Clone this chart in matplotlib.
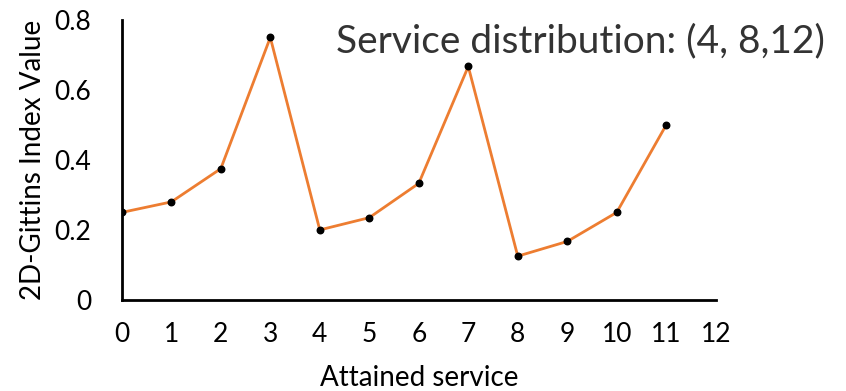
import matplotlib.pyplot as plt

plt.rcParams['font.family'] = ['Lato', 'DejaVu Sans']

# Gittins index per attained service level
service = [0, 1, 2, 3, 4, 5, 6, 7, 8, 9, 10, 11]
gittins = [0.25, 0.28, 0.375, 0.75, 0.2, 0.235, 0.333, 0.667, 0.125, 0.167, 0.25, 0.5]
xticks = list(range(13))
yticks = [0, 0.2, 0.4, 0.6, 0.8]
ytick_labels = ['0', '0.2', '0.4', '0.6', '0.8']

fig = plt.figure(figsize=(8.46, 3.91), dpi=100)
ax = fig.add_axes([0.144, 0.233, 0.702, 0.716])

ax.plot(service, gittins, color='#ED7D31', lw=2, zorder=2)
ax.scatter(service, gittins, color='black', s=22, zorder=3)

ax.set_xlim(0, 12)
ax.set_ylim(0, 0.8)
ax.set_xticks(xticks)
ax.set_yticks(yticks)
ax.set_yticklabels(ytick_labels)
ax.tick_params(length=0, labelsize=19, colors='black')
ax.tick_params(axis='x', pad=16)
ax.tick_params(axis='y', pad=22)

for side in ['top', 'right']:
    ax.spines[side].set_visible(False)
for side in ['left', 'bottom']:
    ax.spines[side].set_linewidth(2)

ax.set_xlabel('Attained service', fontsize=20, labelpad=13)
ax.set_ylabel('2D-Gittins Index Value', fontsize=20, labelpad=6)

fig.text(0.975, 0.895, 'Service distribution: (4, 8,12)', fontsize=28,
         color='#333333', ha='right', va='center')

fig.savefig('out.png', dpi=100)
